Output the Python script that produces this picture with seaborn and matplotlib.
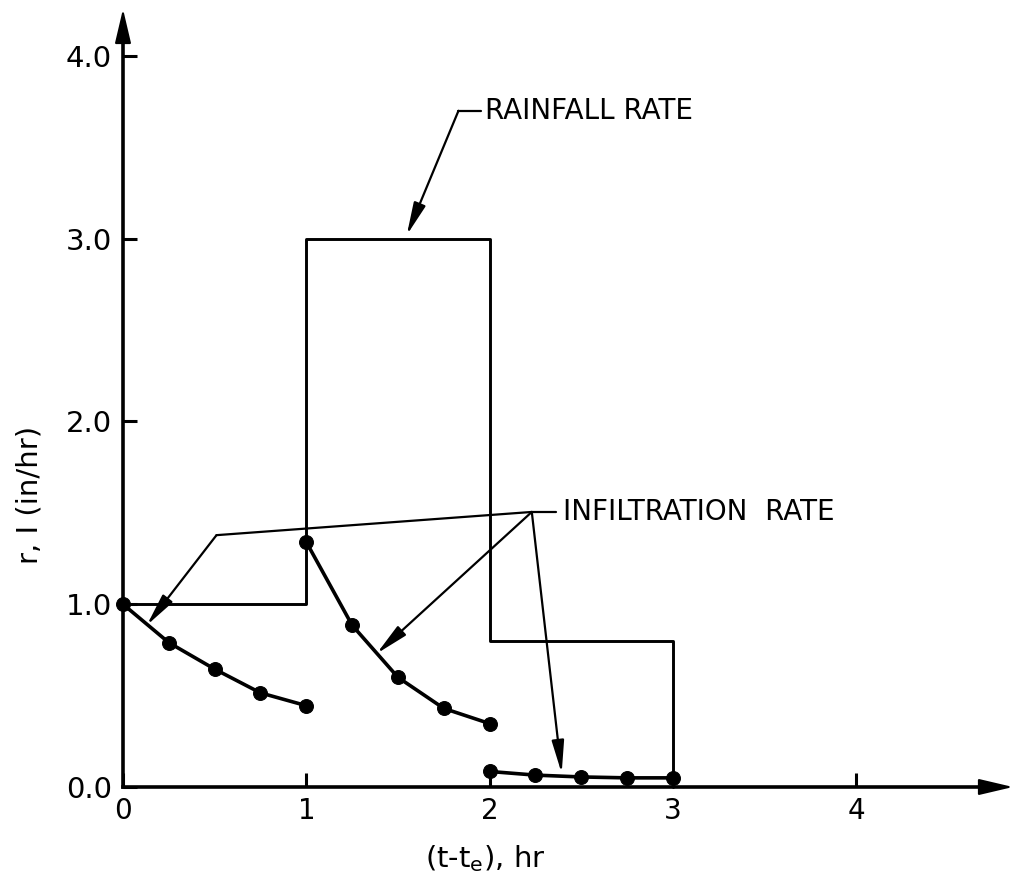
import matplotlib
matplotlib.use("Agg")
import matplotlib.pyplot as plt
import pandas as pd
import seaborn as sns

# Rainfall hyetograph: rate held constant over each hour, then stops at t = 3 hr
rain_t = [0.0, 1.0, 2.0, 3.0, 3.0]
rain_r = [1.0, 3.0, 0.8, 0.8, 0.0]

# Infiltration rate sampled every quarter hour, one decay curve per rainfall block
inf_t1 = [0.0, 0.25, 0.5, 0.75, 1.0]
inf_r1 = [1.00, 0.79, 0.645, 0.515, 0.445]
inf_t2 = [1.0, 1.25, 1.5, 1.75, 2.0]
inf_r2 = [1.34, 0.885, 0.60, 0.43, 0.347]
inf_t3 = [2.0, 2.25, 2.5, 2.75, 3.0]
inf_r3 = [0.085, 0.065, 0.055, 0.05, 0.05]

x_ticks = [0, 1, 2, 3, 4]
x_tick_labels = ["0", "1", "2", "3", "4"]
y_ticks = [0, 1, 2, 3, 4]
y_tick_labels = ["0.0", "1.0", "2.0", "3.0", "4.0"]

rain_label = "RAINFALL RATE"
inf_label = "INFILTRATION  RATE"
x_label = "(t-t$_\\mathregular{e}$), hr"
y_label = "r, I (in/hr)"

sns.set_theme(style="white")
plt.rcParams["font.family"] = ["DejaVu Sans"]
plt.rcParams["text.color"] = "black"
plt.rcParams["axes.labelcolor"] = "black"
plt.rcParams["xtick.color"] = "black"
plt.rcParams["ytick.color"] = "black"

rain_df = pd.DataFrame({"t": rain_t, "r": rain_r})
inf_df = pd.concat(
    [
        pd.DataFrame({"t": inf_t1, "I": inf_r1, "block": 1}),
        pd.DataFrame({"t": inf_t2, "I": inf_r2, "block": 2}),
        pd.DataFrame({"t": inf_t3, "I": inf_r3, "block": 3}),
    ],
    ignore_index=True,
)

W, H = 1017, 876
fig = plt.figure(figsize=(W / 100, H / 100), dpi=100)
ax = fig.add_axes([123 / W, (H - 787) / H, (1013 - 123) / W, (787 - 9) / H])

XMAX, YMAX = 4.855, 4.257
ax.set_xlim(0, XMAX)
ax.set_ylim(0, YMAX)

# rainfall rate as a stepped line
sns.lineplot(data=rain_df, x="t", y="r", sort=False, estimator=None,
             drawstyle="steps-post", color="black", lw=2.1, ax=ax,
             clip_on=False, zorder=3)

# infiltration curves with sample points
sns.lineplot(data=inf_df, x="t", y="I", units="block", estimator=None,
             sort=False, color="black", lw=2.6, marker="o", markersize=10,
             markeredgecolor="black", ax=ax, clip_on=False, zorder=4)

# axes: left/bottom lines ending in arrowheads
for side in ["top", "right"]:
    ax.spines[side].set_visible(False)
for side in ["left", "bottom"]:
    ax.spines[side].set_linewidth(2.6)
    ax.spines[side].set_color("black")
ax.spines["bottom"].set_bounds(0, XMAX - 0.1)
ax.spines["left"].set_bounds(0, YMAX - 0.1)

head = "-|>,head_length=0.85,head_width=0.2"
ax.annotate("", xy=(XMAX, 0), xytext=(XMAX - 0.16, 0), xycoords="data",
            arrowprops=dict(arrowstyle=head, mutation_scale=25, color="black",
                            lw=1.5, shrinkA=0, shrinkB=0), annotation_clip=False)
ax.annotate("", xy=(0, YMAX), xytext=(0, YMAX - 0.16), xycoords="data",
            arrowprops=dict(arrowstyle=head, mutation_scale=25, color="black",
                            lw=1.5, shrinkA=0, shrinkB=0), annotation_clip=False)

ax.set_xticks(x_ticks)
ax.set_xticklabels(x_tick_labels, fontsize=20)
ax.set_yticks(y_ticks)
ax.set_yticklabels(y_tick_labels, fontsize=21)
ax.tick_params(axis="both", direction="in", length=10, width=2.2, color="black",
               labelcolor="black", bottom=True, left=True)
ax.tick_params(axis="x", pad=7)
ax.tick_params(axis="y", pad=8)

ax.set_xlabel(x_label, fontsize=21, va="center", color="black")
ax.xaxis.set_label_coords(0.407, -0.092)
ax.set_ylabel(y_label, fontsize=21, va="center", color="black")
ax.yaxis.set_label_coords(-0.105, 0.375)

# leader lines
lead = dict(color="black", lw=1.6, solid_capstyle="round")
arrow = dict(arrowstyle="-|>,head_length=0.9,head_width=0.17", mutation_scale=22,
             color="black", lw=1.6, shrinkA=0, shrinkB=0)

# rainfall label
ax.text(1.975, 3.70, rain_label, fontsize=20, va="center", ha="left", color="black")
ax.plot([1.83, 1.955], [3.70, 3.70], **lead)
ax.annotate("", xy=(1.548, 3.02), xytext=(1.83, 3.70), arrowprops=arrow)

# infiltration label with three leaders from a common hub
hub = (2.23, 1.505)
ax.text(2.40, 1.505, inf_label, fontsize=20, va="center", ha="left", color="black")
ax.plot([hub[0], 2.36], [hub[1], hub[1]], **lead)
ax.plot([hub[0], 0.51], [hub[1], 1.378], **lead)
ax.annotate("", xy=(0.13, 0.885), xytext=(0.51, 1.378), arrowprops=arrow)
ax.annotate("", xy=(1.384, 0.73), xytext=hub, arrowprops=arrow)
ax.annotate("", xy=(2.393, 0.075), xytext=hub, arrowprops=arrow)

ax.grid(False)
fig.savefig("out.png", dpi=100, facecolor="white")
